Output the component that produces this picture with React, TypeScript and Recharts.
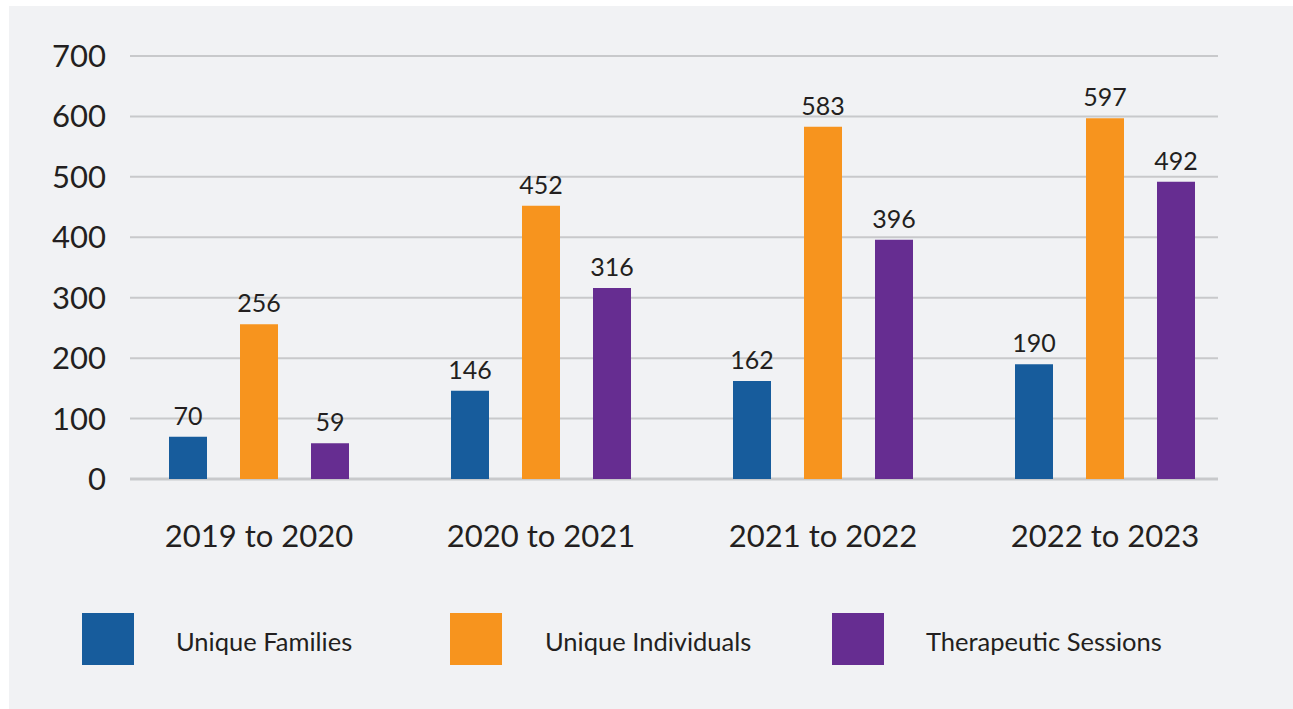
import { BarChart, Bar, XAxis, YAxis, CartesianGrid, LabelList } from 'recharts';

const periods = ['2019 to 2020', '2020 to 2021', '2021 to 2022', '2022 to 2023'];
const uniqueFamilies = [70, 146, 162, 190];
const uniqueIndividuals = [256, 452, 583, 597];
const therapeuticSessions = [59, 316, 396, 492];
const yTicks = [0, 100, 200, 300, 400, 500, 600, 700];

const series = [
  { key: 'families', name: 'Unique Families', color: '#175c9c' },
  { key: 'individuals', name: 'Unique Individuals', color: '#f7941e' },
  { key: 'sessions', name: 'Therapeutic Sessions', color: '#662d91' },
];

const chartData = periods.map((p, i) => ({
  period: p,
  families: uniqueFamilies[i],
  individuals: uniqueIndividuals[i],
  sessions: therapeuticSessions[i],
}));

const FONT = 'Lato, "Open Sans", sans-serif';
const TEXT = '#231f20';

const legendPos = [
  { box: 82, text: 176 },
  { box: 450, text: 545 },
  { box: 832, text: 926 },
];

// zero line is drawn a bit heavier than the other grid lines
const gridLine = (props: any) => (
  <line
    key={`grid-${props.index}`}
    x1={props.x1}
    x2={props.x2}
    y1={props.y1}
    y2={props.y2}
    stroke="#c8c9cb"
    strokeWidth={props.index === 0 ? 3 : 2}
  />
);

export default function App() {
  return (
    <div style={{ position: 'absolute', left: 0, top: 0, width: 1293, height: 709, background: '#fff', overflow: 'hidden' }}>
      <div style={{ position: 'absolute', left: 9, top: 6, width: 1284, height: 703, background: '#f1f2f4' }} />
      <div style={{ position: 'absolute', left: 0, top: 0 }}>
        <BarChart
          width={1293}
          height={709}
          data={chartData}
          margin={{ top: 56, right: 47, left: 0, bottom: 150 }}
          barSize={38}
          barGap={33}
        >
          <CartesianGrid vertical={false} horizontal={gridLine} x={130} width={1088} />
          <XAxis
            dataKey="period"
            axisLine={false}
            tickLine={false}
            tickSize={0}
            tickMargin={46}
            height={80}
            interval={0}
            tick={{ fill: TEXT, fontSize: 31, fontFamily: FONT }}
          />
          <YAxis
            domain={[0, 700]}
            ticks={yTicks}
            width={118}
            axisLine={false}
            tickLine={false}
            tickSize={0}
            tickMargin={12}
            tick={{ fill: TEXT, fontSize: 31, fontFamily: FONT }}
          />
          {series.map((s) => (
            <Bar key={s.key} dataKey={s.key} name={s.name} fill={s.color} isAnimationActive={false}>
              <LabelList
                dataKey={s.key}
                position="top"
                offset={12}
                fill={TEXT}
                fontSize={25}
                fontFamily={FONT}
              />
            </Bar>
          ))}
        </BarChart>
      </div>
      {series.map((s, i) => (
        <div key={s.key}>
          <div
            style={{
              position: 'absolute',
              left: legendPos[i].box,
              top: 613,
              width: 52,
              height: 52,
              background: s.color,
            }}
          />
          <div
            style={{
              position: 'absolute',
              left: legendPos[i].text,
              top: 625,
              fontFamily: FONT,
              fontSize: 25.5,
              lineHeight: '32px',
              color: TEXT,
              whiteSpace: 'nowrap',
            }}
          >
            {s.name}
          </div>
        </div>
      ))}
    </div>
  );
}
